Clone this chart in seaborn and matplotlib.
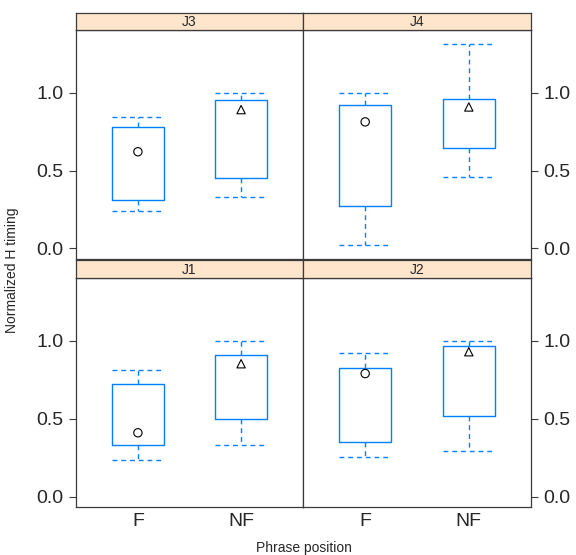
import numpy as np
import pandas as pd
import matplotlib
matplotlib.use('Agg')
import matplotlib.pyplot as plt
import seaborn as sns

# panel order as laid out: top row J3, J4 / bottom row J1, J2
PANELS    = ['J3', 'J4', 'J1', 'J2']
POSITIONS = ['F', 'NF']

# box stats per panel, [F, NF]
whisk_lo = [[0.238, 0.328], [0.020, 0.462], [0.235, 0.330], [0.254, 0.294]]
q1       = [[0.313, 0.452], [0.270, 0.648], [0.333, 0.500], [0.350, 0.516]]
med      = [[0.622, 0.893], [0.814, 0.910], [0.410, 0.853], [0.790, 0.930]]
q3       = [[0.782, 0.955], [0.925, 0.963], [0.723, 0.910], [0.825, 0.968]]
whisk_hi = [[0.846, 1.000], [1.000, 1.315], [0.815, 1.000], [0.920, 1.000]]

Y_TICKS  = [0.0, 0.5, 1.0]
Y_LABELS = ['0.0', '0.5', '1.0']

BOX_COL   = '#0080ff'
STRIP_COL = '#ffe5cc'
FRAME_COL = '#3a3a3a'
DASH      = (0, (3.5, 2.8))

sns.set_style('white')
plt.rcParams['font.family'] = ['Liberation Sans', 'DejaVu Sans']

# long table for the median markers
rows = []
for p, name in enumerate(PANELS):
    for i, pos in enumerate(POSITIONS):
        rows.append({'panel': name, 'position': pos, 'median': med[p][i]})
df_med = pd.DataFrame(rows)

W, H = 576, 555
fig = plt.figure(figsize=(W / 100, H / 100), dpi=100)

# pixel geometry of panel regions
col_x = [(76, 303), (303, 531)]
row_y = [(30, 259), (277.7, 507.3)]
strip_h = 17.4

for p, name in enumerate(PANELS):
    r, c = divmod(p, 2)
    x0, x1 = col_x[c]
    y0, y1 = row_y[r]
    ax = fig.add_axes([x0 / W, (H - y1) / H, (x1 - x0) / W, (y1 - y0) / H])
    sax = fig.add_axes([x0 / W, (H - y0) / H, (x1 - x0) / W, strip_h / H])

    stats = []
    for i in range(2):
        stats.append({'whislo': whisk_lo[p][i], 'q1': q1[p][i], 'med': med[p][i],
                      'q3': q3[p][i], 'whishi': whisk_hi[p][i], 'fliers': []})
    ax.bxp(stats, positions=[0, 1], widths=0.5, showfliers=False,
           capwidths=0.5, manage_ticks=False,
           boxprops=dict(color=BOX_COL, linewidth=1.0),
           whiskerprops=dict(color=BOX_COL, linewidth=1.0, linestyle=DASH),
           capprops=dict(color=BOX_COL, linewidth=1.0, linestyle=DASH),
           medianprops=dict(linewidth=0))

    sub = df_med[df_med['panel'] == name]
    sns.scatterplot(data=sub, x='position', y='median', style='position',
                    markers={'F': 'o', 'NF': '^'}, s=36, facecolor='none',
                    edgecolor='black', linewidth=0.8, legend=False, ax=ax, zorder=5)

    ax.set_xlim(-0.6, 1.6)
    ax.set_ylim(-0.068, 1.405)
    ax.set_xlabel('')
    ax.set_ylabel('')
    ax.set_yticks(Y_TICKS)
    ax.set_yticklabels(Y_LABELS)
    ax.set_xticks([0, 1])
    for s in ax.spines.values():
        s.set_color(FRAME_COL)
        s.set_linewidth(0.9)
        s.set_visible(True)

    ax.tick_params(axis='y', length=5, width=0.8, color=FRAME_COL, labelsize=14,
                   pad=4, left=(c == 0), labelleft=(c == 0),
                   right=(c == 1), labelright=(c == 1))
    if r == 1:
        ax.set_xticklabels(POSITIONS)
        ax.tick_params(axis='x', length=0, labelsize=14, pad=4)
    else:
        ax.tick_params(axis='x', length=0, labelbottom=False)

    sax.set_facecolor(STRIP_COL)
    sax.set_xticks([])
    sax.set_yticks([])
    for s in sax.spines.values():
        s.set_color(FRAME_COL)
        s.set_linewidth(0.9)
        s.set_visible(True)
    sax.text(0.5, 0.45, name, ha='center', va='center', fontsize=10,
             transform=sax.transAxes)

fig.text(12 / W, (H - 270) / H, 'Normalized H timing', rotation=90,
         ha='center', va='center', fontsize=10)
fig.text(303.5 / W, (H - 548) / H, 'Phrase position', ha='center', va='center',
         fontsize=10)

fig.savefig('out.png', dpi=100)
